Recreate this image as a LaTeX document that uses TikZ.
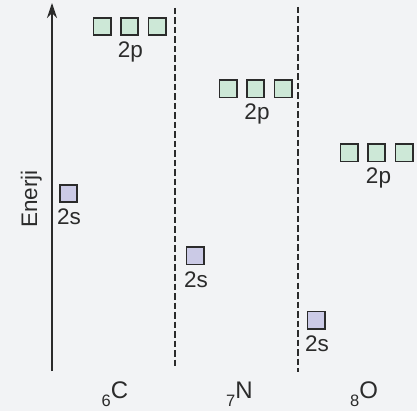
\documentclass[tikz,border=0pt]{standalone}
\usepackage{fontspec}
\setmainfont{Liberation Sans}
\usetikzlibrary{arrows.meta}
\definecolor{bg}{HTML}{F2F3F5}
\definecolor{pfill}{HTML}{CDE8D7}
\definecolor{sfill}{HTML}{CBCAE6}
\definecolor{ink}{HTML}{2B2B2B}
\begin{document}
\begin{tikzpicture}[x=1pt,y=-1pt,
  orb/.style={draw=ink,line width=1.8pt,minimum size=17.2pt,inner sep=0pt},
  porb/.style={orb,fill=pfill},
  sorb/.style={orb,fill=sfill},
  lbl/.style={font=\fontsize{22.5}{26}\selectfont,text=ink,inner sep=0pt,anchor=base},
  elem/.style={font=\fontsize{24}{28}\selectfont,text=ink,inner sep=0pt,anchor=base west},
  sepline/.style={dash pattern=on 6.5pt off 3pt,line width=1.5pt,draw=ink},
  axisline/.style={draw=ink,line width=1.5pt,-{Stealth[length=15pt,width=10pt]}}]
\fill[bg] (0,0) rectangle (417,411);
\useasboundingbox (0,0) rectangle (417,411);
% axis
\coordinate (ab) at (52,371);
\coordinate (at) at (52,3);
\draw[axisline] (ab) -- (at);
\node[rotate=90,anchor=base,font=\fontsize{22.5}{26}\selectfont,text=ink,inner sep=0pt] (en) at (37,199) {Enerji};
% separators
\coordinate (d1t) at (175,8);
\coordinate (d1b) at (175,368);
\coordinate (d2t) at (298,7);
\coordinate (d2b) at (298,372);
\draw[sepline] (d1t) -- (d1b);
\draw[sepline] (d2t) -- (d2b);
% Carbon
\node[porb] (cp1) at (102,26.5) {};
\node[porb] (cp2) at (129.5,26.5) {};
\node[porb] (cp3) at (157,26.5) {};
\node[lbl] (cpl) at (130.5,57.7) {2p};
\node[sorb] (cs) at (68.5,193.5) {};
\node[lbl] (csl) at (69,225) {2s};
% Nitrogen
\node[porb] (np1) at (228,89) {};
\node[porb] (np2) at (255.5,89) {};
\node[porb] (np3) at (283,89) {};
\node[lbl] (npl) at (257,120) {2p};
\node[sorb] (ns) at (195,256) {};
\node[lbl] (nsl) at (196,287.5) {2s};
% Oxygen
\node[porb] (op1) at (349,153) {};
\node[porb] (op2) at (376.5,153) {};
\node[porb] (op3) at (404,153) {};
\node[lbl] (opl) at (378.5,184) {2p};
\node[sorb] (os) at (316,320) {};
\node[lbl] (osl) at (317,351.5) {2s};
% element labels
\node[elem] (ce) at (101.5,398.5) {{\fontsize{16.5}{19}\selectfont\raisebox{-7.5pt}{6}}C};
\node[elem] (ne) at (226,398.5) {{\fontsize{16.5}{19}\selectfont\raisebox{-7.5pt}{7}}N};
\node[elem] (oe) at (350,398.5) {{\fontsize{16.5}{19}\selectfont\raisebox{-7.5pt}{8}}O};
\end{tikzpicture}
\end{document}
